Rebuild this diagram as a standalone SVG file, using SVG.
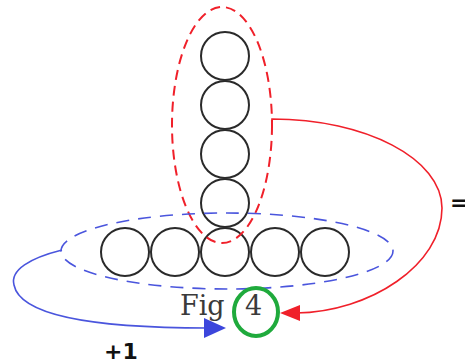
<svg xmlns="http://www.w3.org/2000/svg" width="465" height="364" viewBox="0 0 465 364">
<style>
.ball{fill:none;stroke:#2a2a2a;stroke-width:2}
.red{fill:none;stroke:#f0202a;stroke-width:2;stroke-dasharray:10 6}
.blue{fill:none;stroke:#4a55dd;stroke-width:1.6;stroke-dasharray:13 9}
.lab{font-family:"DejaVu Sans",sans-serif;font-weight:bold;font-size:22px;fill:#111}
</style>
<rect width="465" height="364" fill="#fff"/>
<g id="balls">
<circle class="ball" cx="225" cy="56" r="24"/>
<circle class="ball" cx="225" cy="105" r="24"/>
<circle class="ball" cx="225" cy="154" r="24"/>
<circle class="ball" cx="225" cy="203" r="24"/>
<circle class="ball" cx="125" cy="252" r="24"/>
<circle class="ball" cx="175" cy="252" r="24"/>
<circle class="ball" cx="225" cy="252" r="24"/>
<circle class="ball" cx="275" cy="252" r="24"/>
<circle class="ball" cx="325" cy="252" r="24"/>
</g>
<g id="vertical-group"><ellipse class="red" cx="222" cy="125" rx="50" ry="118"/></g>
<g id="horizontal-group"><ellipse class="blue" cx="227" cy="251" rx="166" ry="38"/></g>
<g id="fig4">
<text x="180" y="315" font-family="DejaVu Serif,serif" font-size="27" fill="#3a3a3a">Fig <tspan x="245">4</tspan></text>
<ellipse cx="256" cy="312" rx="22" ry="24" fill="none" stroke="#1faa3c" stroke-width="4"/>
</g>
<g id="connectors">
<path d="M272,122 V119 C366,119 442,159 442,208 C442,265 370,312 296,313" fill="none" stroke="#f0202a" stroke-width="1.6"/>
<polygon points="280,313 300,305 300,321" fill="#f0202a"/>
<path d="M62,250 C30,258 10,270 14,285 C20,315 90,328 208,328" fill="none" stroke="#4a55dd" stroke-width="1.6"/>
<polygon points="226,328 204,318 204,338" fill="#3c46dc"/>
</g>
<text class="lab" x="104" y="359">+1</text>
<text class="lab" x="450" y="210">=</text>
</svg>
